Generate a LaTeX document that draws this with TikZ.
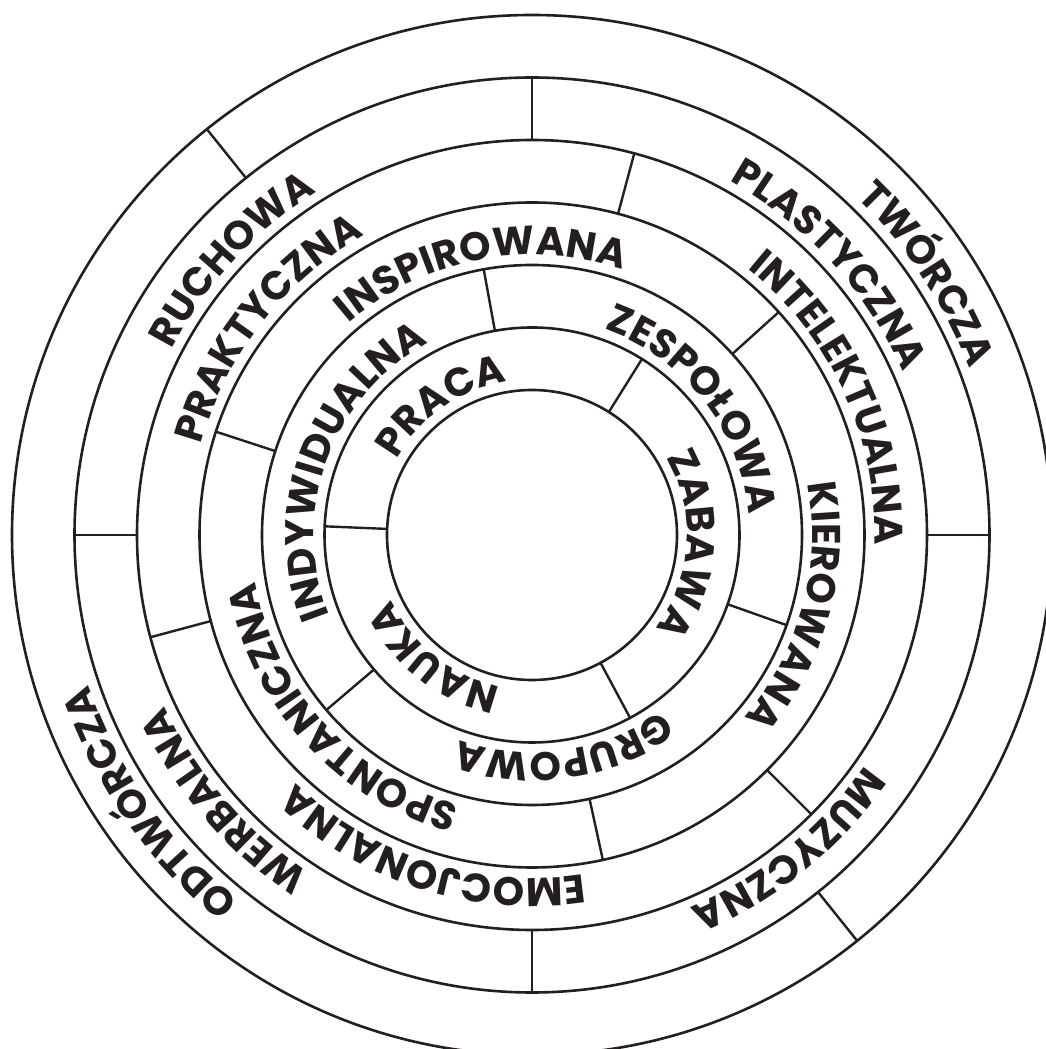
\documentclass[tikz,border=0pt]{standalone}
\usepackage{fontspec}
\setmainfont{Poppins}
\usetikzlibrary{decorations.text}
\definecolor{ink}{RGB}{35,31,32}
\newcommand\lblfont{\fontsize{40}{48}\selectfont\bfseries}
\newcommand\ringtext[3]{%
  \pgfmathsetmacro\sa{#2+85}\pgfmathsetmacro\ea{#2-85}%
  \path[decorate,decoration={text along path,text align=center,text color=ink,
      text={|\lblfont|#3}}]
    (C) ++(\sa:#1) arc[start angle=\sa,end angle=\ea,radius=#1];}
\begin{document}
\begin{tikzpicture}[x=1pt,y=1pt,
  ringline/.style={draw=ink,line width=2.6pt},
  divider/.style={draw=ink,line width=2.4pt}]
\useasboundingbox (0,0) rectangle (1045,1049);
\coordinate (C) at (532,514);
% circles
\foreach \r in {145,207.5,270,332.5,395,457.5,520}
  \draw[ringline] (C) circle[radius=\r];
% dividers: inner radius / angle
\foreach \ri/\a in {145/58,145/177.6,145/298.2,
                    207.5/100.3,207.5/220.4,207.5/340.5,
                    270/42.1,270/161.9,270/282.3,
                    332.5/75,332.5/195,332.5/315,
                    395/0,395/90,395/180,395/270,
                    457.5/128.7,457.5/308.7}
  \draw[divider] (C) ++(\a:\ri) -- ++(\a:62.5);
% labels
\ringtext{155}{125}{PRACA}
\ringtext{155}{-3.5}{ZABAWA}
\ringtext{155}{231.5}{NAUKA}
\ringtext{218}{160}{INDYWIDUALNA}
\ringtext{218}{38}{ZESPOŁOWA}
\ringtext{218}{278.5}{GRUPOWA}
\ringtext{280}{101}{INSPIROWANA}
\ringtext{280}{345}{KIEROWANA}
\ringtext{280}{222.3}{SPONTANICZNA}
\ringtext{343}{142}{PRAKTYCZNA}
\ringtext{343}{252.5}{EMOCJONALNA}
\ringtext{343}{24.7}{INTELEKTUALNA}
\ringtext{405}{42.3}{PLASTYCZNA}
\ringtext{405}{137.4}{RUCHOWA}
\ringtext{405}{220.8}{WERBALNA}
\ringtext{405}{309.2}{MUZYCZNA}
\ringtext{468}{33.5}{TWÓRCZA}
\ringtext{468}{215}{ODTWÓRCZA}
\end{tikzpicture}
\end{document}
